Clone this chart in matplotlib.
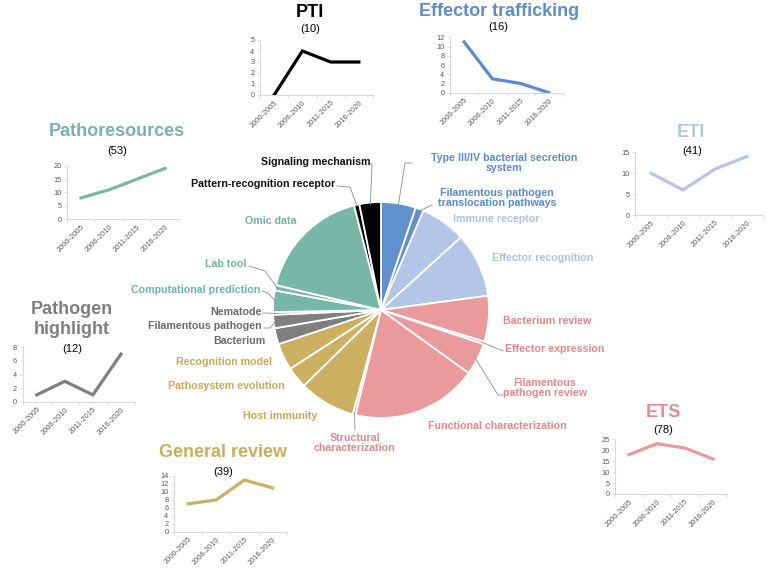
import numpy as np
import matplotlib.pyplot as plt

plt.rcParams['font.family'] = ['Liberation Sans', 'DejaVu Sans']

W, H = 767, 575

# ---- data ----
periods = ["2000-2005", "2006-2010", "2011-2015", "2016-2020"]

pti = [0, 4, 3, 3]
effector_trafficking = [11, 3, 2, 0]
pathoresources = [8, 11, 15, 19]
eti = [10, 6, 11, 14]
pathogen_highlight = [1, 3, 1, 7]
general_review = [7, 8, 13, 11]
ets = [18, 23, 21, 16]

slice_labels = [
    "Type III/IV bacterial secretion\nsystem",
    "Filamentous pathogen\ntranslocation pathways",
    "Immune receptor",
    "Effector recognition",
    "Bacterium review",
    "Effector expression",
    "Filamentous\npathogen review",
    "Functional characterization",
    "Structural\ncharacterization",
    "Host immunity",
    "Pathosystem evolution",
    "Recognition model",
    "Bacterium",
    "Filamentous pathogen",
    "Nematode",
    "Computational prediction",
    "Lab tool",
    "Omic data",
    "Pattern-recognition receptor",
    "Signaling mechanism",
]
slice_values = [13, 3, 17, 24, 17, 1, 12, 47, 1, 21, 8, 10, 6, 5, 1, 8, 2, 43, 2, 8]
slice_groups = ["ET", "ET", "ETI", "ETI", "ETS", "ETS", "ETS", "ETS", "ETS",
                "GR", "GR", "GR", "PH", "PH", "PH", "PR", "PR", "PR", "PTI", "PTI"]

# colours per group: slice / line colour, label text colour
slice_col = {"ET": "#6190cf", "ETI": "#b4c6e7", "ETS": "#ea9a9b", "GR": "#cbb062",
             "PH": "#7f7f7f", "PR": "#78b6a7", "PTI": "#000000"}
text_col = {"ET": "#5a8ad0", "ETI": "#adc1e6", "ETS": "#e8878b", "GR": "#c8a95a",
            "PH": "#6b6b6b", "PR": "#70b3a2", "PTI": "#111111"}


def fx(x):
    return x / W


def fy(y):
    return 1 - y / H


fig = plt.figure(figsize=(W / 100, H / 100), dpi=100)

# ---- pie ----
CX, CY, R = 381, 310, 108
pax = fig.add_axes([(CX - R) / W, (H - CY - R) / H, 2 * R / W, 2 * R / H])
wedges, _ = pax.pie(slice_values, colors=[slice_col[g] for g in slice_groups],
                    startangle=90, counterclock=False,
                    wedgeprops=dict(edgecolor="white", linewidth=1.3))
pax.set_xlim(-1, 1)
pax.set_ylim(-1, 1)


def pie_xy(px, py):
    return (px - CX) / R, (CY - py) / R


# label position (px), alignment, leader path points (px)
label_pos = [
    (504, 163, "center", [(405, 163), (412, 163)]),
    (497, 198, "center", [(432, 205)]),
    (453, 219, "left", None),
    (492, 258, "left", None),
    (503, 321, "left", None),
    (505, 349, "left", [(503, 351)]),
    (545, 388, "center", [(498, 395), (503, 395)]),
    (497, 426, "center", None),
    (355, 443, "center", [(355, 430)]),
    (280, 416, "center", None),
    (285, 386, "right", None),
    (272, 362, "right", None),
    (265, 341, "right", None),
    (262, 326, "right", [(270, 328), (264, 328)]),
    (262, 312, "right", [(263, 313)]),
    (260, 290, "right", [(268, 293), (262, 291)]),
    (247, 264, "right", [(265, 271), (249, 266)]),
    (271, 221, "center", None),
    (335, 184, "right", [(350, 187), (337, 186)]),
    (316, 162, "center", [(372, 164), (369, 164)]),
]

for w, lab, grp, (lx, ly, ha, path) in zip(wedges, slice_labels, slice_groups, label_pos):
    fig.text(fx(lx), fy(ly), lab, ha=ha, va="center", fontsize=7.7, fontweight="bold",
             color=text_col[grp], multialignment="center", linespacing=1.05)
    if path:
        mid = np.deg2rad((w.theta1 + w.theta2) / 2)
        xs = [np.cos(mid) * 0.98]
        ys = [np.sin(mid) * 0.98]
        for px, py in path:
            dx, dy = pie_xy(px, py)
            xs.append(dx)
            ys.append(dy)
        pax.plot(xs, ys, color="#8c8c8c", lw=0.6, clip_on=False)

# ---- small trend charts ----
insets = [
    # name, series, colour, title pos, n pos, axes box (left, right, top, bottom), ymax, step
    ("PTI", pti, "#000000", "#000000", (310, 17), (310, 31.5), (260, 373, 40, 95), 5, 1),
    ("Effector trafficking", effector_trafficking, "#5b8bd0", "#5e8ccd", (499, 16), (498, 30),
     (450, 563, 37.3, 92.7), 12, 2),
    ("Pathoresources", pathoresources, "#78b6a7", "#75b6a6", (117, 136), (117, 154),
     (67, 179, 165.7, 219.3), 20, 5),
    ("ETI", eti, "#b4c6e7", "#b4c5e6", (691, 136.7), (692, 154), (635, 763, 152.3, 215), 15, 5),
    ("Pathogen\nhighlight", pathogen_highlight, "#7f7f7f", "#7f7f7f", (72, 334), (72, 351.7),
     (22.7, 135, 347.3, 401.7), 8, 2),
    ("General review", general_review, "#cbb062", "#c8ad5d", (223, 457.3), (223, 475),
     (174, 286.7, 476, 531.7), 14, 2),
    ("ETS", ets, "#ea9a9b", "#e48b8e", (663, 417), (663, 433.3), (615, 727, 439.3, 494), 25, 5),
]

for name, vals, lc, tc, tpos, npos, box, ymax, step in insets:
    fig.text(fx(tpos[0]), fy(tpos[1]), name, ha="center", va="baseline", fontsize=13,
             fontweight="bold", color=tc, linespacing=1.25)
    fig.text(fx(npos[0]), fy(npos[1]), "(%d)" % sum(vals), ha="center", va="baseline",
             fontsize=8, color="black")
    left, right, top, bottom = box
    ax = fig.add_axes([fx(left), fy(bottom), (right - left) / W, (bottom - top) / H])
    x = np.arange(len(vals)) + 0.5
    ax.plot(x, vals, color=lc, lw=2.3, solid_joinstyle="miter")
    ax.set_xlim(0, len(vals))
    ax.set_ylim(0, ymax)
    ax.set_yticks(np.arange(0, ymax + 1, step))
    ax.set_xticks(np.arange(len(vals) + 1))
    ax.set_xticklabels([])
    ax.set_xticks(x, minor=True)
    ax.set_xticklabels(periods, minor=True, rotation=45, ha="right", rotation_mode="anchor")
    ax.patch.set_alpha(0)
    for s in ["top", "right"]:
        ax.spines[s].set_visible(False)
    for s in ["left", "bottom"]:
        ax.spines[s].set_color("#d9d9d9")
        ax.spines[s].set_linewidth(0.8)
    ax.tick_params(axis="both", which="major", length=2.5, width=0.6, color="#d9d9d9",
                   labelsize=5.3, labelcolor="#595959", pad=1.5)
    ax.tick_params(axis="x", which="minor", length=0, labelsize=5.3, labelcolor="#595959", pad=3)

fig.savefig("out.png", dpi=100)
